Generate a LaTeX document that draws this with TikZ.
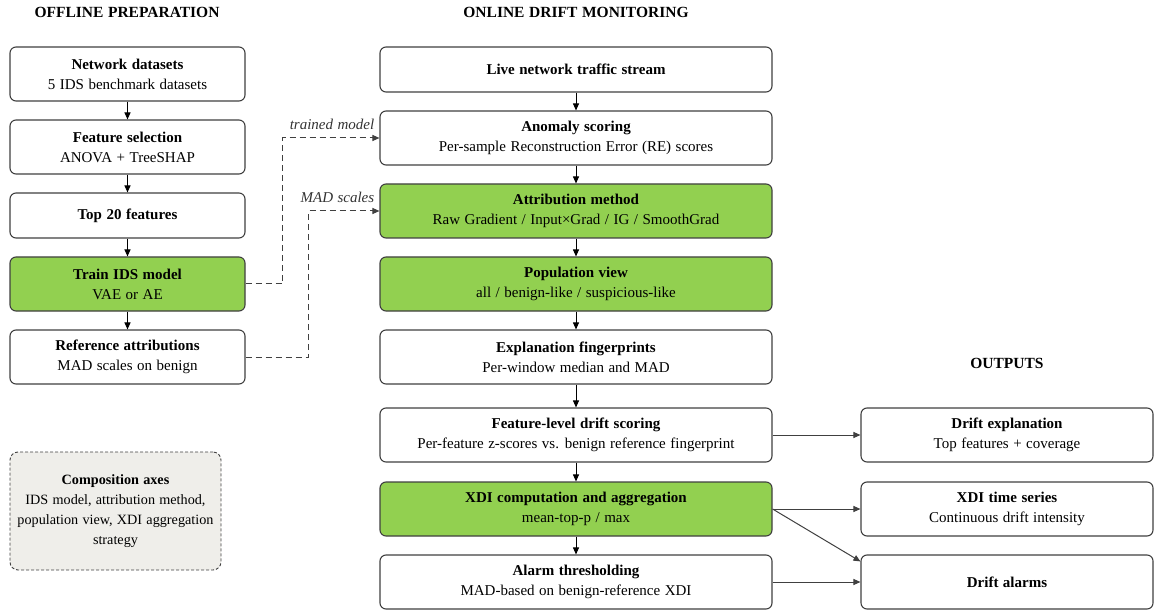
\documentclass[tikz,border=0pt]{standalone}
\usepackage{fontspec}
\setmainfont[WordSpace=1.2]{Liberation Serif}
\usetikzlibrary{arrows.meta,positioning}
\definecolor{stage border color}{HTML}{404040}
\definecolor{model stage color}{HTML}{92D050}
\definecolor{axes background color}{HTML}{EFEEEA}
\tikzset{
    x={1pt},
    y={-1pt},
    stage/.style={
        draw=stage border color, fill=white,
        rounded corners={6pt},
        line width={1.1pt},
        align=center,
        font={\fontsize{15}{20}\selectfont},
        inner sep=0pt,
        minimum width={#1},
        minimum height={54},
    },
    stage/.default={235},
    model stage/.style={
        stage={#1},
        fill=model stage color,
    },
    model stage/.default={235},
    axes box/.style={
        draw=stage border color, fill=axes background color,
        dashed, dash pattern=on 3pt off 2pt,
        rounded corners={8pt},
        line width={0.9pt},
        align=center,
        font={\fontsize{14.2}{20}\selectfont},
        inner sep=0pt,
        minimum width={211},
        minimum height={118},
    },
    section title/.style={
        font={\fontsize{15.5}{18}\selectfont\bfseries},
    },
    flow arrow/.style={
        draw=black,
        line width={1pt},
        -{Triangle[length=7pt,width=6pt]},
    },
    output arrow/.style={
        draw=stage border color,
        line width={1pt},
        -{Triangle[length=7pt,width=6pt]},
    },
    feed arrow/.style={
        draw=stage border color,
        line width={1pt},
        dash pattern=on 6pt off 4pt,
        -{Triangle[length=7pt,width=6pt]},
    },
    feed label/.style={
        font={\fontsize{15}{17}\selectfont\itshape},
        text=black!80,
        inner sep=0pt,
    },
}

\begin{document}
\begin{tikzpicture}
\useasboundingbox (0,0) rectangle (1156,612);
% titles
\node[section title] (offline title) at (127,12) {OFFLINE PREPARATION};
\node[section title] (online title) at (576,12) {ONLINE DRIFT MONITORING};
\node[section title] (outputs title) at (1007,363) {OUTPUTS};
% offline preparation
\node[stage] (datasets) at (127.5,74) {\textbf{Network datasets}\\5 IDS benchmark datasets};
\node[stage] (feature selection) at (127.5,147) {\textbf{Feature selection}\\ANOVA + TreeSHAP};
\node[stage, minimum height={45}] (top features) at (127.5,215.5) {\textbf{Top 20 features}};
\node[model stage] (train model) at (127.5,284) {\textbf{Train IDS model}\\VAE or AE};
\node[stage] (reference attributions) at (127.5,357) {\textbf{Reference attributions}\\MAD scales on benign};
\node[axes box] (composition axes) at (115.5,511) {\textbf{Composition axes}\\IDS model, attribution method,\\population view, XDI aggregation\\strategy};
% online drift monitoring
\node[stage={392}, minimum height={45}] (traffic stream) at (576,69.5) {\textbf{Live network traffic stream}};
\node[stage={392}] (anomaly scoring) at (576,138) {\textbf{Anomaly scoring}\\Per-sample Reconstruction Error (RE) scores};
\node[model stage={392}] (attribution method) at (576,211) {\textbf{Attribution method}\\Raw Gradient / Input×Grad / IG / SmoothGrad};
\node[model stage={392}] (population view) at (576,284) {\textbf{Population view}\\all / benign-like / suspicious-like};
\node[stage={392}] (fingerprints) at (576,357) {\textbf{Explanation fingerprints}\\Per-window median and MAD};
\node[stage={392}] (drift scoring) at (576,435) {\textbf{Feature-level drift scoring}\\Per-feature z-scores vs. benign reference fingerprint};
\node[model stage={392}] (xdi computation) at (576,509) {\textbf{XDI computation and aggregation}\\mean-top-p / max};
\node[stage={392}] (alarm thresholding) at (576,582) {\textbf{Alarm thresholding}\\MAD-based on benign-reference XDI};
% outputs
\node[stage={292}] (drift explanation) at (1007,435) {\textbf{Drift explanation}\\Top features + coverage};
\node[stage={292}] (xdi series) at (1007,509) {\textbf{XDI time series}\\Continuous drift intensity};
\node[stage={292}] (drift alarms) at (1007,582) {\textbf{Drift alarms}};
% offline flow
\path[flow arrow] (datasets) -- (feature selection);
\path[flow arrow] (feature selection) -- (top features);
\path[flow arrow] (top features) -- (train model);
\path[flow arrow] (train model) -- (reference attributions);
% online flow
\path[flow arrow] (traffic stream) -- (anomaly scoring);
\path[flow arrow] (anomaly scoring) -- (attribution method);
\path[flow arrow] (attribution method) -- (population view);
\path[flow arrow] (population view) -- (fingerprints);
\path[flow arrow] (fingerprints) -- (drift scoring);
\path[flow arrow] (drift scoring) -- (xdi computation);
\path[flow arrow] (xdi computation) -- (alarm thresholding);
% offline to online
\path[feed arrow] (train model.east) -- ++(37,0) |- (anomaly scoring.west);
\path[feed arrow] (reference attributions.east) -- ++(63,0) |- (attribution method.west);
\node[feed label, above left=8pt and 5pt of anomaly scoring.west] (trained model label) {trained model};
\node[feed label, above left=8pt and 5pt of attribution method.west] (mad scales label) {MAD scales};
% outputs
\path[output arrow] (drift scoring.east) -- (drift explanation.west);
\path[output arrow] (xdi computation.east) -- (xdi series.west);
\path[output arrow] (xdi computation.east) -- ([yshift=-7pt]drift alarms.north west);
\path[output arrow] (alarm thresholding.east) -- (drift alarms.west);
\end{tikzpicture}
\end{document}
